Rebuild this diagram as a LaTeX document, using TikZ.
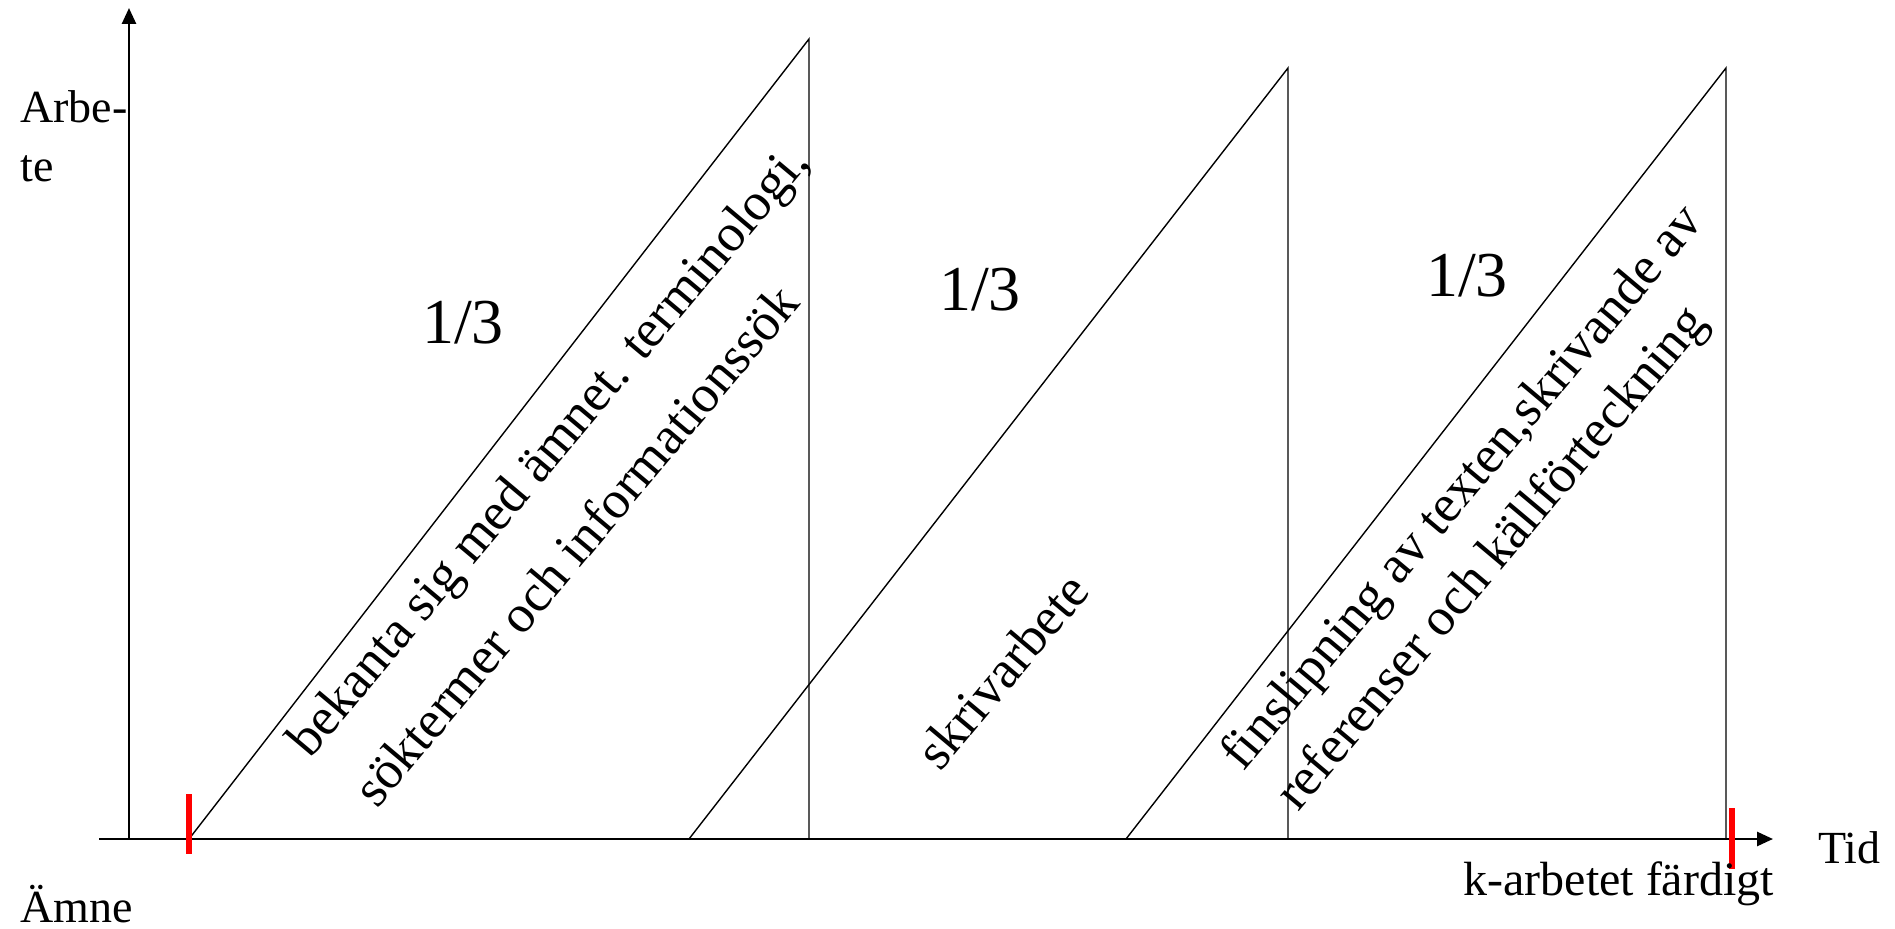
\documentclass[tikz,border=0pt]{standalone}
\usepackage{fontspec}
\setmainfont{Liberation Serif}
\usetikzlibrary{arrows.meta}
\begin{document}
\begin{tikzpicture}[x=0.5pt,y=-0.5pt,
  axis/.style={line width=1.3pt,-{Triangle[length=8pt,width=7pt]}},
  tri/.style={line width=0.7pt},
  redtick/.style={red,line width=3pt},
  lab/.style={inner sep=0pt,font=\fontsize{23}{27}\selectfont},
  frac/.style={inner sep=0pt,anchor=base,font=\fontsize{32}{36}\selectfont},
  rot/.style={inner sep=0pt,anchor=base west,rotate=50,font=\fontsize{26.5}{30}\selectfont}]
\useasboundingbox (0,0) rectangle (1895,929);
% axes
\coordinate (o) at (129,839);
\coordinate (xs) at (99,839);
\coordinate (xe) at (1773,839);
\coordinate (ye) at (129,8);
\draw[axis] (xs) -- (xe);
\draw[axis] (o) -- (ye);
% triangles
\coordinate (a1) at (189,839); \coordinate (p1) at (809,39); \coordinate (b1) at (809,839);
\coordinate (a2) at (689,839); \coordinate (p2) at (1288,68); \coordinate (b2) at (1288,839);
\coordinate (a3) at (1126,839); \coordinate (p3) at (1726,68); \coordinate (b3) at (1726,839);
\draw[tri] (a1) -- (p1) -- (b1);
\draw[tri] (a2) -- (p2) -- (b2);
\draw[tri] (a3) -- (p3) -- (b3);
% red marks
\coordinate (r1t) at (189,794); \coordinate (r1b) at (189,854);
\coordinate (r2t) at (1732,808); \coordinate (r2b) at (1732,869);
\draw[redtick] (r1t) -- (r1b);
\draw[redtick] (r2t) -- (r2b);
% axis labels
\node[lab,anchor=base west] (arbe) at (20,123) {Arbe-};
\node[lab,anchor=base west] (te) at (20,182) {te};
\node[lab,anchor=base west] (amne) at (20,922) {Ämne};
\node[lab,anchor=base west] (tid) at (1818,863) {Tid};
\node[lab,anchor=base west,font=\fontsize{24}{28}\selectfont] (klar) at (1463,895) {k-arbetet färdigt};
% fractions
\node[frac] (f1) at (463,344) {1/3};
\node[frac] (f2) at (980,311) {1/3};
\node[frac] (f3) at (1467,297) {1/3};
% rotated texts
\node[rot] (t1a) at (310,760) {bekanta sig med ämnet. terminologi,};
\node[rot] (t1b) at (377,810) {söktermer och informationssök};
\node[rot] (t2) at (940,773) {skrivarbete};
\node[rot] (t3a) at (1243,773) {finslipning av texten,skrivande av};
\node[rot] (t3b) at (1298,813) {referenser och källförteckning};
\end{tikzpicture}
\end{document}
